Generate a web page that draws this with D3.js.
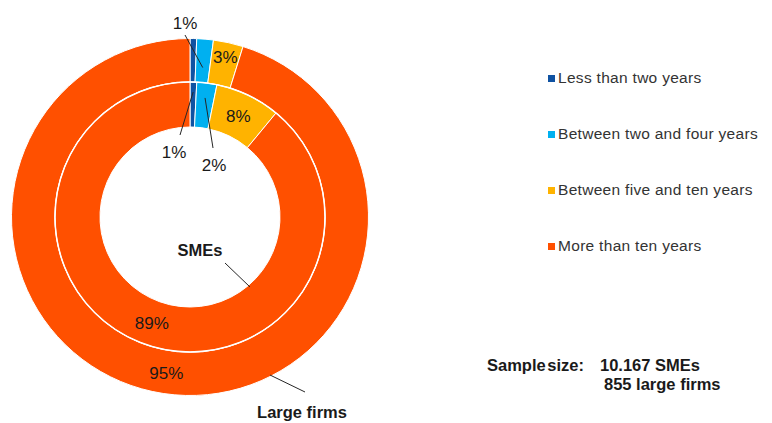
<!DOCTYPE html>
<html>
<head>
<meta charset="utf-8">
<script src="https://cdn.jsdelivr.net/npm/d3@7"></script>
<style>
  body { margin: 0; background: #fff; }
  text { font-family: "Liberation Sans", Arial, sans-serif; }
</style>
</head>
<body>
<script>
// ------------------------------------------------ Data ------------------------------------------------ //
var categories = ["Less than two years", "Between two and four years", "Between five and ten years", "More than ten years"];
var colors = ["#0F52A2", "#00B0F0", "#FFB300", "#FF5000"];
// inner ring = SMEs, outer ring = large firms (shares in %)
var sme_values = [0.8, 2.4, 7.8, 89.0];
var large_values = [0.6, 1.5, 2.7, 95.2];
var sme_labels = ["1%", "2%", "8%", "89%"];
var large_labels = ["", "1%", "3%", "95%"];
var sample_lines = ["10.167 SMEs", "855 large firms"];

// --------------------------------------------- Init SVG ---------------------------------------------- //
var width = 772, height = 423;
var cx = 190, cy = 217;
var r_hole = 90, r_mid = 135, r_out = 178.5;

var svg = d3.select("body").append("svg")
    .attr("width", width)
    .attr("height", height);
var g = svg.append("g")
    .attr("transform", "translate(" + cx + "," + cy + ")");

var pie = d3.pie().sort(null).value(function(d) { return d; });
var arc_in = d3.arc().innerRadius(r_hole).outerRadius(r_mid);
var arc_out = d3.arc().innerRadius(r_mid).outerRadius(r_out);

var sme_arcs = pie(sme_values);
var large_arcs = pie(large_values);

function draw_ring(arcs, arcGen, cls) {
    g.append("g").attr("class", cls)
        .selectAll("path")
        .data(arcs)
        .enter().append("path")
            .attr("d", arcGen)
            .attr("fill", function(d, i) { return colors[i]; })
            .attr("stroke", "#fff")
            .attr("stroke-width", 1);
}
draw_ring(large_arcs, arc_out, "large");
draw_ring(sme_arcs, arc_in, "sme");

// white separator between rings
g.append("circle").attr("r", r_mid).attr("fill", "none").attr("stroke", "#fff").attr("stroke-width", 1.5);

// ---------------------------------------------- Labels ----------------------------------------------- //
var pos = function(angle, r) { return [Math.sin(angle) * r, -Math.cos(angle) * r]; };
var mid = function(d) { return (d.startAngle + d.endAngle) / 2; };

var lbl = g.append("g").attr("class", "labels")
    .attr("font-size", 17).attr("fill", "#1a1a1a");

function label_at(text, p, anchor) {
    lbl.append("text").attr("x", p[0]).attr("y", p[1])
        .attr("text-anchor", anchor || "middle")
        .attr("dy", "0.35em")
        .text(text);
}
function leader(p0, p1) {
    g.append("line")
        .attr("x1", p0[0]).attr("y1", p0[1])
        .attr("x2", p1[0]).attr("y2", p1[1])
        .attr("stroke", "#262626").attr("stroke-width", 1);
}

// outer ring labels
leader([-5, -182], pos(mid(large_arcs[1]), 150));
label_at(large_labels[1], [-5, -194]);
label_at(large_labels[2], pos(mid(large_arcs[2]), 164));
label_at(large_labels[3], pos(mid(large_arcs[3]), 158));

// inner ring labels
leader(pos(mid(sme_arcs[0]), 125), [-10, -82]);
label_at(sme_labels[0], [-16, -65]);
leader(pos(mid(sme_arcs[1]), 120), [23, -69]);
label_at(sme_labels[1], [24, -52]);
label_at(sme_labels[2], pos(mid(sme_arcs[2]), 112));
label_at(sme_labels[3], pos(mid(sme_arcs[3]), 113));

// series names
var bold = g.append("g").attr("font-size", 16.5).attr("font-weight", "bold").attr("fill", "#1a1a1a");
bold.append("text").attr("x", 10).attr("y", 33).attr("dy", "0.35em").attr("text-anchor", "middle").text("SMEs");
leader([35, 46], [60, 70]);
bold.append("text").attr("x", 112).attr("y", 195).attr("dy", "0.35em").attr("text-anchor", "middle").text("Large firms");
leader([80, 158], [115, 175]);

// ---------------------------------------------- Legend ----------------------------------------------- //
var legend_y = d3.scalePoint().domain(categories).range([78, 246]);
var legend = svg.append("g").attr("class", "legend");
var rows = legend.selectAll("g").data(categories).enter().append("g")
    .attr("transform", function(d) { return "translate(548," + legend_y(d) + ")"; });
rows.append("rect")
    .attr("x", 0).attr("y", -3).attr("width", 7).attr("height", 7)
    .attr("fill", function(d, i) { return colors[i]; });
rows.append("text")
    .attr("x", 10).attr("dy", "0.35em")
    .attr("font-size", 15.5).attr("letter-spacing", 0.3).attr("fill", "#333")
    .text(function(d) { return d; });

// -------------------------------------------- Sample size -------------------------------------------- //
var ss = svg.append("g").attr("font-size", 16.5).attr("font-weight", "bold").attr("fill", "#1a1a1a");
ss.append("text").attr("x", 487).attr("y", 365).attr("dy", "0.35em").attr("word-spacing", -3).text("Sample size:");
ss.append("text").attr("x", 600).attr("y", 365).attr("dy", "0.35em").text(sample_lines[0]);
ss.append("text").attr("x", 604).attr("y", 384).attr("dy", "0.35em").text(sample_lines[1]);
</script>
</body>
</html>
